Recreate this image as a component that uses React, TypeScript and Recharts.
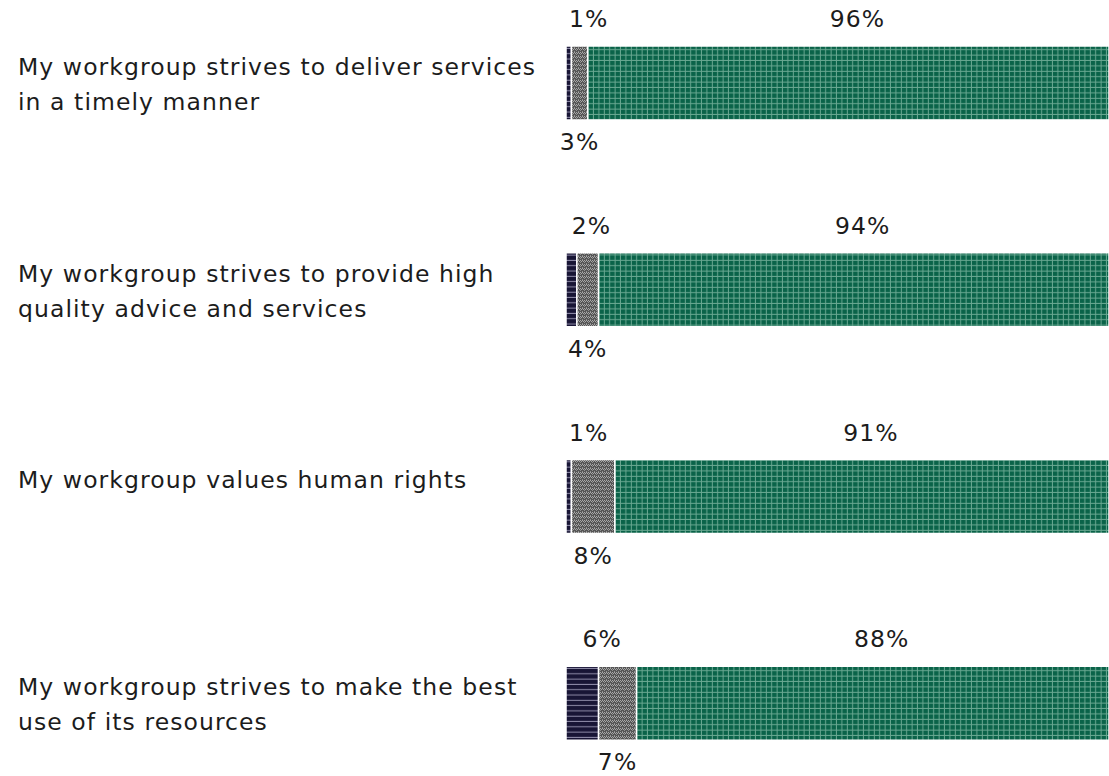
import React from 'react';
import { BarChart, Bar, XAxis, YAxis, LabelList } from 'recharts';

const categories = [
  'My workgroup strives to deliver services\nin a timely manner',
  'My workgroup strives to provide high\nquality advice and services',
  'My workgroup values human rights',
  'My workgroup strives to make the best\nuse of its resources',
];
const disagree = [1, 2, 1, 6];
const neutral = [3, 4, 8, 7];
const agree = [96, 94, 91, 88];

const data = categories.map((c, i) => ({
  name: c,
  disagree: disagree[i],
  neutral: neutral[i],
  agree: agree[i],
}));

const FONT = "'DejaVu Sans', sans-serif";
const TEXT = '#1c1c1c';
const FS = 23.5;
const LS = 1.07;

function CatTick(props: any) {
  const { y, payload } = props;
  const lines = String(payload.value).split('\n');
  return (
    <text fontFamily={FONT} fontSize={FS} fill={TEXT} textAnchor="start" letterSpacing={LS}>
      {lines.map((l, i) => (
        <tspan key={i} x={18} y={y - 17 + 8.5 + i * 35}>
          {l}
        </tspan>
      ))}
    </text>
  );
}

const makeLabel = (pos: 'above' | 'below', dx: number) => (props: any) => {
  const { x, y, width, height, value } = props;
  const cx = Number(x) + Number(width) / 2 + dx;
  const ty = pos === 'above' ? Number(y) - 19 : Number(y) + Number(height) + 30;
  return (
    <text x={cx} y={ty} textAnchor="middle" fontFamily={FONT} fontSize={FS} fill={TEXT} letterSpacing={LS}>
      {value}%
    </text>
  );
};

export default function App() {
  return (
    <div style={{ position: 'absolute', left: 0, top: 0, width: 1109, height: 776, overflow: 'hidden', background: '#fff' }}>
      <div style={{ position: 'absolute', left: 0, top: -20 }}>
        <BarChart
          width={1109}
          height={827}
          data={data}
          layout="vertical"
          margin={{ top: 0, right: 0, bottom: 0, left: 0 }}
          barSize={74}
        >
          <defs>
            <pattern id="pDark" width="6" height="5.3" patternUnits="userSpaceOnUse">
              <rect width="6" height="5.3" fill="#181535" />
              <rect y="4.3" width="6" height="1" fill="#8f8ca8" />
            </pattern>
            <pattern id="pGray" width="4" height="4" patternUnits="userSpaceOnUse">
              <rect width="4" height="4" fill="#555555" />
              <rect x="0" y="0" width="1" height="1" fill="#a8a8a8" />
              <rect x="1" y="1" width="1" height="1" fill="#a8a8a8" />
              <rect x="2" y="0" width="1" height="1" fill="#a8a8a8" />
              <rect x="3" y="1" width="1" height="1" fill="#a8a8a8" />
              <rect x="0" y="2" width="1" height="1" fill="#909090" />
              <rect x="2" y="3" width="1" height="1" fill="#909090" />
            </pattern>
            <pattern id="pGreen" width="5.4" height="5.4" patternUnits="userSpaceOnUse">
              <rect width="5.4" height="5.4" fill="#0a6349" />
              <rect x="4.4" width="1" height="5.4" fill="#6aa892" />
              <rect y="4.4" width="5.4" height="1" fill="#6aa892" />
            </pattern>
          </defs>
          <XAxis type="number" domain={[0, 100]} allowDataOverflow hide />
          <YAxis
            type="category"
            dataKey="name"
            width={566}
            axisLine={false}
            tickLine={false}
            tick={(p: any) => <CatTick {...p} />}
            interval={0}
          />
          <Bar dataKey="disagree" stackId="a" fill="url(#pDark)" stroke="#fff" strokeWidth={1.5} isAnimationActive={false}>
            <LabelList dataKey="disagree" content={makeLabel('above', 20)} />
          </Bar>
          <Bar dataKey="neutral" stackId="a" fill="url(#pGray)" stroke="#fff" strokeWidth={1.5} isAnimationActive={false}>
            <LabelList dataKey="neutral" content={makeLabel('below', 0)} />
          </Bar>
          <Bar dataKey="agree" stackId="a" fill="url(#pGreen)" stroke="#fff" strokeWidth={1.5} isAnimationActive={false}>
            <LabelList dataKey="agree" content={makeLabel('above', 9)} />
          </Bar>
        </BarChart>
      </div>
    </div>
  );
}
